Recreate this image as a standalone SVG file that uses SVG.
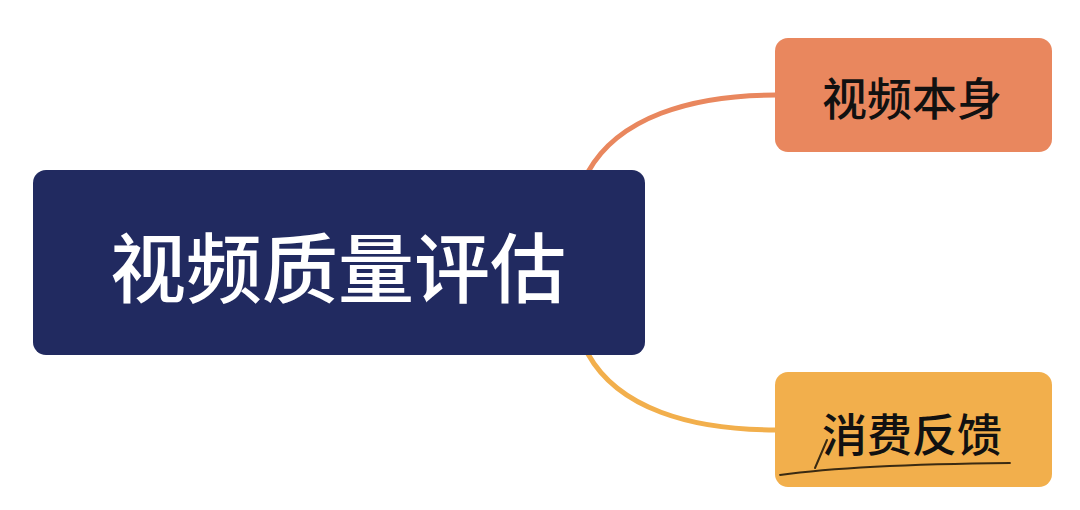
<svg xmlns="http://www.w3.org/2000/svg" width="1080" height="510" viewBox="0 0 1080 510">
  <style>
    .cjk { font-family: "Noto Sans CJK SC", "Noto Sans", sans-serif; text-anchor: middle; dominant-baseline: central; }
    .main-text { font-size: 76px; font-weight: 500; fill: #FFFFFF; }
    .sub-text { font-size: 45px; font-weight: 500; fill: #111111; }
    .link { fill: none; stroke-width: 5; stroke-linecap: round; }
    .scratch { fill: none; stroke: #3A2A12; stroke-linecap: round; }
  </style>
  <rect width="1080" height="510" fill="#FFFFFF"/>
  <g id="connectors">
    <path class="link" d="M 588 172 C 618 118, 690 95, 776 95" stroke="#E9875E"/>
    <path class="link" d="M 588 354 C 618 408, 690 430, 776 430" stroke="#F2AF4C"/>
  </g>
  <g id="node-root">
    <rect x="33" y="170" width="612" height="185" rx="13" fill="#212A60"/>
    <text class="cjk main-text" x="338" y="264">视频质量评估</text>
  </g>
  <g id="node-video">
    <rect x="775" y="38" width="277" height="114" rx="13" fill="#E9875E"/>
    <text class="cjk sub-text" x="912" y="96">视频本身</text>
  </g>
  <g id="node-feedback">
    <rect x="775" y="372" width="277" height="115" rx="13" fill="#F2AF4C"/>
    <text class="cjk sub-text" x="912" y="432">消费反馈</text>
    <path class="scratch" d="M 780 475 C 830 468, 910 464, 1010 463" stroke-width="1.8"/>
    <path class="scratch" d="M 827 440 L 815 468" stroke-width="2"/>
  </g>
</svg>
